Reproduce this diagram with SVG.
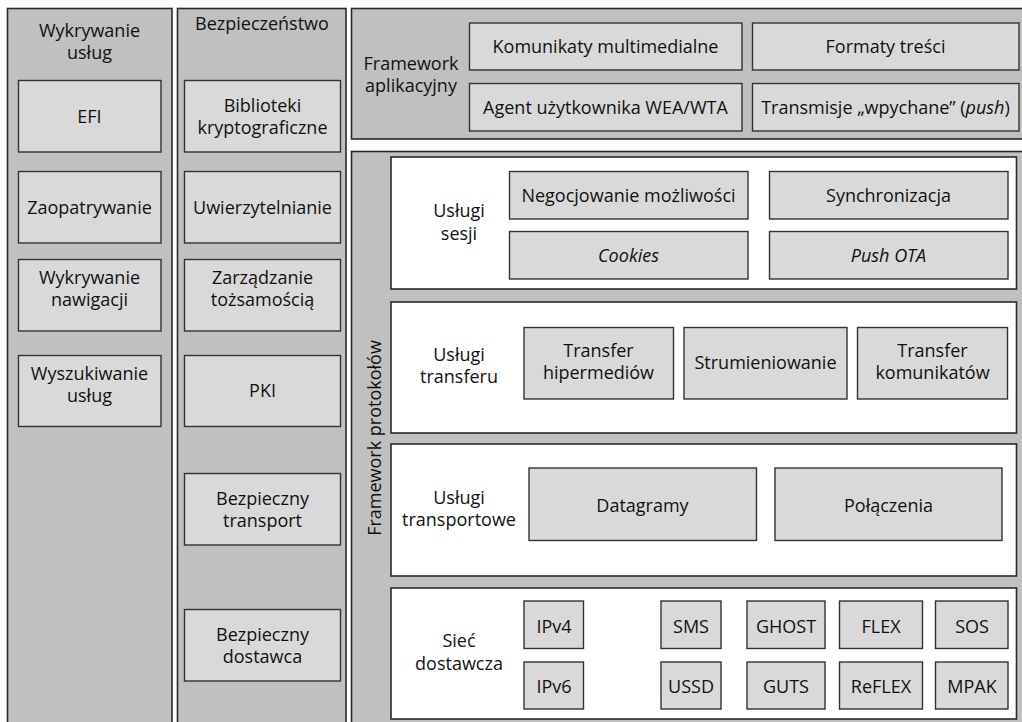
<svg xmlns="http://www.w3.org/2000/svg" width="1022" height="722" viewBox="0 0 1022 722">
<style>
.col{fill:#c0c0c0;stroke:#2a2a2a;stroke-width:1.6}
.panel{fill:#ffffff;stroke:#2a2a2a;stroke-width:1.6}
.box{fill:#d9d9d9;stroke:#333333;stroke-width:1.4}
text{font-family:"Open Sans","Noto Sans","Liberation Sans",sans-serif;font-size:18px;fill:#111111;text-anchor:middle}
.it{font-style:italic}
</style>
<rect width="1022" height="722" fill="#ffffff"/>

<g id="col-wykrywanie">
<rect class="col" x="7.5" y="8.5" width="164.5" height="730"/>
<text x="89.5" y="36.5">Wykrywanie<tspan x="89.5" dy="22">usług</tspan></text>
</g>
<g id="efi"><rect class="box" x="18.5" y="80.5" width="142.5" height="71.5"/><text x="89.5" y="122.5">EFI</text></g>
<g id="zaopatrywanie"><rect class="box" x="18.5" y="171.5" width="142.5" height="71.5"/><text x="89.5" y="213.5">Zaopatrywanie</text></g>
<g id="wykrywanie-nawigacji"><rect class="box" x="18.5" y="259.5" width="142.5" height="71.5"/><text x="89.5" y="284">Wykrywanie<tspan x="89.5" dy="22">nawigacji</tspan></text></g>
<g id="wyszukiwanie-uslug"><rect class="box" x="18.5" y="355.5" width="142.5" height="71"/><text x="89.5" y="379.5">Wyszukiwanie<tspan x="89.5" dy="22">usług</tspan></text></g>

<g id="col-bezpieczenstwo">
<rect class="col" x="177.5" y="8.5" width="168.5" height="730"/>
<text x="262" y="29.5">Bezpieczeństwo</text>
</g>
<g id="biblioteki"><rect class="box" x="184.5" y="80.5" width="156" height="71.5"/><text x="262.5" y="112">Biblioteki<tspan x="262.5" dy="22">kryptograficzne</tspan></text></g>
<g id="uwierzytelnianie"><rect class="box" x="184.5" y="171.5" width="156" height="71.5"/><text x="262.5" y="213.5">Uwierzytelnianie</text></g>
<g id="zarzadzanie"><rect class="box" x="184.5" y="259.5" width="156" height="71.5"/><text x="262.5" y="284">Zarządzanie<tspan x="262.5" dy="22">tożsamością</tspan></text></g>
<g id="pki"><rect class="box" x="184.5" y="355.5" width="156" height="71"/><text x="262.5" y="397">PKI</text></g>
<g id="bezpieczny-transport"><rect class="box" x="184.5" y="473.5" width="156" height="71.5"/><text x="262.5" y="504.5">Bezpieczny<tspan x="262.5" dy="22">transport</tspan></text></g>
<g id="bezpieczny-dostawca"><rect class="box" x="184.5" y="609.5" width="156" height="71.5"/><text x="262.5" y="640.5">Bezpieczny<tspan x="262.5" dy="22">dostawca</tspan></text></g>

<g id="framework-aplikacyjny">
<rect class="col" x="351.5" y="8.5" width="680" height="130.5"/>
<text x="411" y="69.5">Framework<tspan x="411" dy="22.5">aplikacyjny</tspan></text>
</g>
<g id="komunikaty"><rect class="box" x="469.5" y="23" width="272.5" height="47"/><text x="605.5" y="53">Komunikaty multimedialne</text></g>
<g id="formaty"><rect class="box" x="752.5" y="23" width="266.5" height="47"/><text x="885.5" y="53">Formaty treści</text></g>
<g id="agent"><rect class="box" x="469.5" y="83.5" width="272.5" height="47.5"/><text x="605.5" y="114">Agent użytkownika WEA/WTA</text></g>
<g id="transmisje"><rect class="box" x="752.5" y="83.5" width="266.5" height="47.5"/><text x="885.5" y="114">Transmisje „wpychane” (<tspan class="it">push</tspan>)</text></g>

<g id="framework-protokolow">
<rect class="col" x="351.5" y="151.5" width="680" height="600"/>
<text transform="translate(381,438) rotate(-90)">Framework protokołów</text>
</g>

<g id="uslugi-sesji">
<rect class="panel" x="391" y="157" width="625.5" height="132"/>
<text x="459" y="217">Usługi<tspan x="459" dy="22.5">sesji</tspan></text>
</g>
<g id="negocjowanie"><rect class="box" x="509.5" y="171.5" width="238.5" height="47.5"/><text x="628.5" y="201.5">Negocjowanie możliwości</text></g>
<g id="synchronizacja"><rect class="box" x="769.5" y="171.5" width="238.5" height="47.5"/><text x="888.5" y="201.5">Synchronizacja</text></g>
<g id="cookies"><rect class="box" x="509.5" y="231.5" width="238.5" height="47.5"/><text class="it" x="628.5" y="261.5">Cookies</text></g>
<g id="push-ota"><rect class="box" x="769.5" y="231.5" width="238.5" height="47.5"/><text class="it" x="888.5" y="261.5">Push OTA</text></g>

<g id="uslugi-transferu">
<rect class="panel" x="391" y="302" width="625.5" height="131"/>
<text x="459" y="360.5">Usługi<tspan x="459" dy="22.5">transferu</tspan></text>
</g>
<g id="transfer-hipermediow"><rect class="box" x="524" y="327.5" width="149.5" height="71.5"/><text x="598.5" y="357">Transfer<tspan x="598.5" dy="22">hipermediów</tspan></text></g>
<g id="strumieniowanie"><rect class="box" x="684" y="327.5" width="163" height="71.5"/><text x="765.5" y="369">Strumieniowanie</text></g>
<g id="transfer-komunikatow"><rect class="box" x="857.5" y="327.5" width="150" height="71.5"/><text x="932.5" y="357">Transfer<tspan x="932.5" dy="22">komunikatów</tspan></text></g>

<g id="uslugi-transportowe">
<rect class="panel" x="391" y="444" width="625.5" height="132"/>
<text x="459" y="503.5">Usługi<tspan x="459" dy="22.5">transportowe</tspan></text>
</g>
<g id="datagramy"><rect class="box" x="529" y="468" width="227.5" height="72.5"/><text x="642.5" y="512">Datagramy</text></g>
<g id="polaczenia"><rect class="box" x="775" y="468" width="227" height="72.5"/><text x="888.5" y="512">Połączenia</text></g>

<g id="siec-dostawcza">
<rect class="panel" x="391" y="588" width="625.5" height="131"/>
<text x="459" y="646.5">Sieć<tspan x="459" dy="23">dostawcza</tspan></text>
</g>
<g id="ipv4"><rect class="box" x="524" y="601" width="59.5" height="47.5"/><text x="554" y="633">IPv4</text></g>
<g id="ipv6"><rect class="box" x="524" y="662" width="59.5" height="47"/><text x="554" y="693">IPv6</text></g>
<g id="sms"><rect class="box" x="661" y="601" width="60" height="47.5"/><text x="691" y="633">SMS</text></g>
<g id="ussd"><rect class="box" x="661" y="662" width="60" height="47"/><text x="691" y="693">USSD</text></g>
<g id="ghost"><rect class="box" x="747" y="601" width="78" height="47.5"/><text x="786" y="633">GHOST</text></g>
<g id="guts"><rect class="box" x="747" y="662" width="78" height="47"/><text x="786" y="693">GUTS</text></g>
<g id="flex"><rect class="box" x="839.5" y="601" width="83" height="47.5"/><text x="881" y="633">FLEX</text></g>
<g id="reflex"><rect class="box" x="839.5" y="662" width="83" height="47"/><text x="881" y="693">ReFLEX</text></g>
<g id="sos"><rect class="box" x="935.5" y="601" width="72.5" height="47.5"/><text x="972" y="633">SOS</text></g>
<g id="mpak"><rect class="box" x="935.5" y="662" width="72.5" height="47"/><text x="972" y="693">MPAK</text></g>

<g id="connectors"></g>
</svg>
